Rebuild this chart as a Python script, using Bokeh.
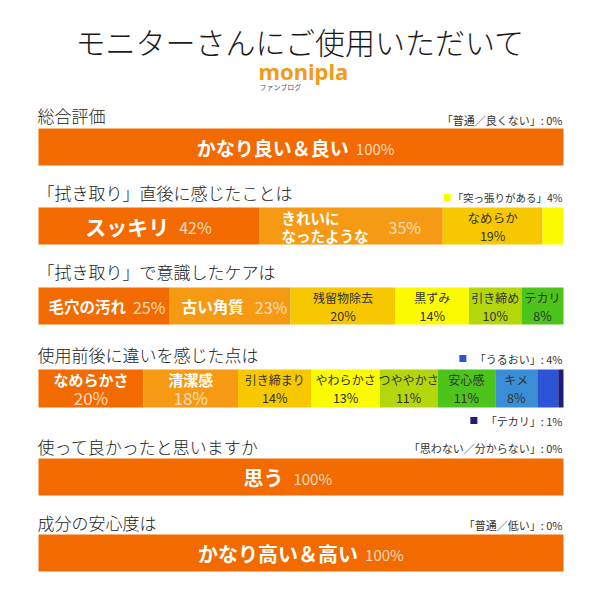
from bokeh.plotting import figure
from bokeh.models import Range1d, ColumnDataSource
from bokeh.core.properties import value
from bokeh.embed import file_html
from bokeh.resources import INLINE

# ---------------- data ----------------
main_title = "モニターさんにご使用いただいて"
brand = "monipla"
brand_sub = "ファンブログ"

section_titles = [
    "総合評価",
    "「拭き取り」直後に感じたことは",
    "「拭き取り」で意識したケアは",
    "使用前後に違いを感じた点は",
    "使って良かったと思いますか",
    "成分の安心度は",
]

overall_labels = ["かなり良い＆良い"]
overall_values = [100]
overall_zero = "「普通／良くない」"

after_labels = ["スッキリ", "きれいに\nなったような", "なめらか", "「突っ張りがある」"]
after_values = [42, 35, 19, 4]

care_labels = ["毛穴の汚れ", "古い角質", "残留物除去", "黒ずみ", "引き締め", "テカリ"]
care_values = [25, 23, 20, 14, 10, 8]

diff_labels = ["なめらかさ", "清潔感", "引き締まり", "やわらかさ", "つややかさ",
               "安心感", "キメ", "「うるおい」", "「テカリ」"]
diff_values = [20, 18, 14, 13, 11, 11, 8, 4, 1]

good_labels = ["思う"]
good_values = [100]
good_zero = "「思わない／分からない」"

safe_labels = ["かなり高い＆高い"]
safe_values = [100]
safe_zero = "「普通／低い」"

# ---------------- styles / layout ----------------
FONT = "Noto Sans CJK JP"
LIGHT_FONT = "'Noto Sans CJK JP Light', 'Noto Sans CJK JP DemiLight', 'Noto Sans CJK JP'"
C_DORANGE = "#f26a00"
C_ORANGE = "#f59a12"
C_GOLD = "#f7c800"
C_YELLOW = "#fafa00"
C_YGREEN = "#b4d60c"
C_GREEN = "#4cc41c"
C_LBLUE = "#3a8ed6"
C_BLUE = "#2b55d6"
C_NAVY = "#1e1e7a"
PEACH = "#fddcba"
DARK = "#333333"

after_colors = [C_DORANGE, C_ORANGE, C_GOLD, C_YELLOW]
care_colors = [C_DORANGE, C_ORANGE, C_GOLD, C_YELLOW, C_YGREEN, C_GREEN]
diff_colors = [C_DORANGE, C_ORANGE, C_GOLD, C_YELLOW, C_YGREEN, C_GREEN, C_LBLUE, C_BLUE, C_NAVY]

W = H = 584
ORIGIN = 0  # page offset of the plot canvas
PX_PER_PCT = 5.25
BAR_LEFT_PAGE = 38
row_tops = [128, 207, 287, 369, 458, 534]
row_heights = [37, 37, 37, 38, 37, 37]
title_ys = [115, 192, 271, 354, 446, 522]

def px(page_x):
    return (page_x - BAR_LEFT_PAGE) / PX_PER_PCT

p = figure(width=W, height=H, output_backend="svg", toolbar_location=None,
           x_range=Range1d((ORIGIN - BAR_LEFT_PAGE) / PX_PER_PCT,
                           (ORIGIN + W - BAR_LEFT_PAGE) / PX_PER_PCT),
           y_range=Range1d(ORIGIN + H, ORIGIN), min_border=0)
p.axis.visible = False
p.grid.visible = False
p.outline_line_color = None
p.background_fill_color = "white"


def text(x, y, s, size, color="black", bold=False, align="left", baseline="middle", font=FONT):
    p.text(x=[x], y=[y], text=[s], text_font=value(font), text_font_size=f"{size}px",
           text_color=color, text_font_style="bold" if bold else "normal",
           text_align=align, text_baseline=baseline)


def tw(s, size):
    w = 0
    for ch in s:
        w += size * (1.0 if ord(ch) > 0x2000 else 0.56)
    return w


def bars(row, values, colors):
    left, right = [], []
    acc = 0
    for v in values:
        left.append(acc)
        acc += v
        right.append(acc)
    top = row_tops[row]
    src = ColumnDataSource(dict(left=left, right=right, color=colors[:len(values)]))
    p.quad(left="left", right="right", top=top, bottom=top + row_heights[row],
           fill_color="color", line_color=None, source=src)
    centers = [(a + b) / 2 for a, b in zip(left, right)]
    return left, right, centers


def inline(row, cx_pct, label, val, lsize, psize, gap=7, pcolor=PEACH):
    ymid = row_tops[row] + row_heights[row] / 2
    lw = tw(label, lsize)
    pw = tw(f"{val}%", psize)
    total = lw + gap + pw
    start = cx_pct * PX_PER_PCT + BAR_LEFT_PAGE - total / 2
    text(px(start + lw), ymid, label, lsize, "white", True, "right")
    text(px(start + lw + gap), ymid + 1, f"{val}%", psize, pcolor, False, "left")


def stacked(row, cx_pct, label, val, lsize, psize, color, bold=False, pcolor=None, dy=9):
    ymid = row_tops[row] + row_heights[row] / 2
    text(cx_pct, ymid - dy, label, lsize, color, bold, "center")
    text(cx_pct, ymid + dy, f"{val}%", psize, pcolor or color, False, "center")


def note(y, s, size=10.5, square=None):
    text(px(562), y, s, size, DARK, False, "right")
    if square:
        w = tw(s, size)
        sx = 562 - w - 9
        p.rect(x=[px(sx)], y=[y], width=7 / PX_PER_PCT, height=7, fill_color=square,
               line_color=None)

# headline
text(px(300), 40, main_title, 30, "#1a1a1a", False, "center", font=LIGHT_FONT)
text(px(258), 70, brand, 22, "#f39a1a", True, "left", "middle", "Noto Sans")
text(px(259), 86, brand_sub, 7, "#555555", False, "left")

for i, t in enumerate(section_titles):
    text(px(37), title_ys[i], t, 17, "#1a1a1a", False, "left", font=LIGHT_FONT)

# row 1
l, r, c = bars(0, overall_values, [C_DORANGE])
inline(0, c[0] - 1.5, overall_labels[0], overall_values[0], 19, 15)
note(119, f"{overall_zero}: 0%", 11)

# row 2
l, r, c = bars(1, after_values, after_colors)
inline(1, c[0] - 0.6, after_labels[0], after_values[0], 21, 16, gap=10)
ymid = row_tops[1] + row_heights[1] / 2
for k, line in enumerate(after_labels[1].split("\n")):
    text(px(281), ymid - 9 + 18 * k, line, 14.5, "white", True, "left")
text(px(388), ymid + 1, f"{after_values[1]}%", 16, PEACH, False, "left")
stacked(1, c[2], after_labels[2], after_values[2], 12.5, 12.5, DARK)
note(197, f"{after_labels[3]}{after_values[3]}%", 10.5, C_YELLOW)

# row 3
l, r, c = bars(2, care_values, care_colors)
inline(2, c[0], care_labels[0], care_values[0], 15.5, 16)
inline(2, c[1] + 0.3, care_labels[1], care_values[1], 15.5, 16, gap=11)
for i in range(2, len(care_values)):
    stacked(2, c[i], care_labels[i], care_values[i], 12, 12.5, DARK)

# row 4
l, r, c = bars(3, diff_values, diff_colors)
for i in range(2):
    stacked(3, c[i], diff_labels[i], diff_values[i], 15, 17, "white", True, PEACH)
for i in range(2, 7):
    stacked(3, c[i], diff_labels[i], diff_values[i], 12, 12.5, DARK)
note(358, f"{diff_labels[7]}: {diff_values[7]}%", 11, C_BLUE)
note(420, f"{diff_labels[8]}: {diff_values[8]}%", 11, C_NAVY)

# row 5
l, r, c = bars(4, good_values, [C_DORANGE])
inline(4, c[0] - 3, good_labels[0], good_values[0], 20, 15, gap=10)
note(447, f"{good_zero}: 0%", 11)

# row 6
l, r, c = bars(5, safe_values, [C_DORANGE])
inline(5, c[0] - 0.5, safe_labels[0], safe_values[0], 20, 15)
note(524, f"{safe_zero}: 0%", 11)

open("out.html", "w").write(file_html(p, INLINE))
